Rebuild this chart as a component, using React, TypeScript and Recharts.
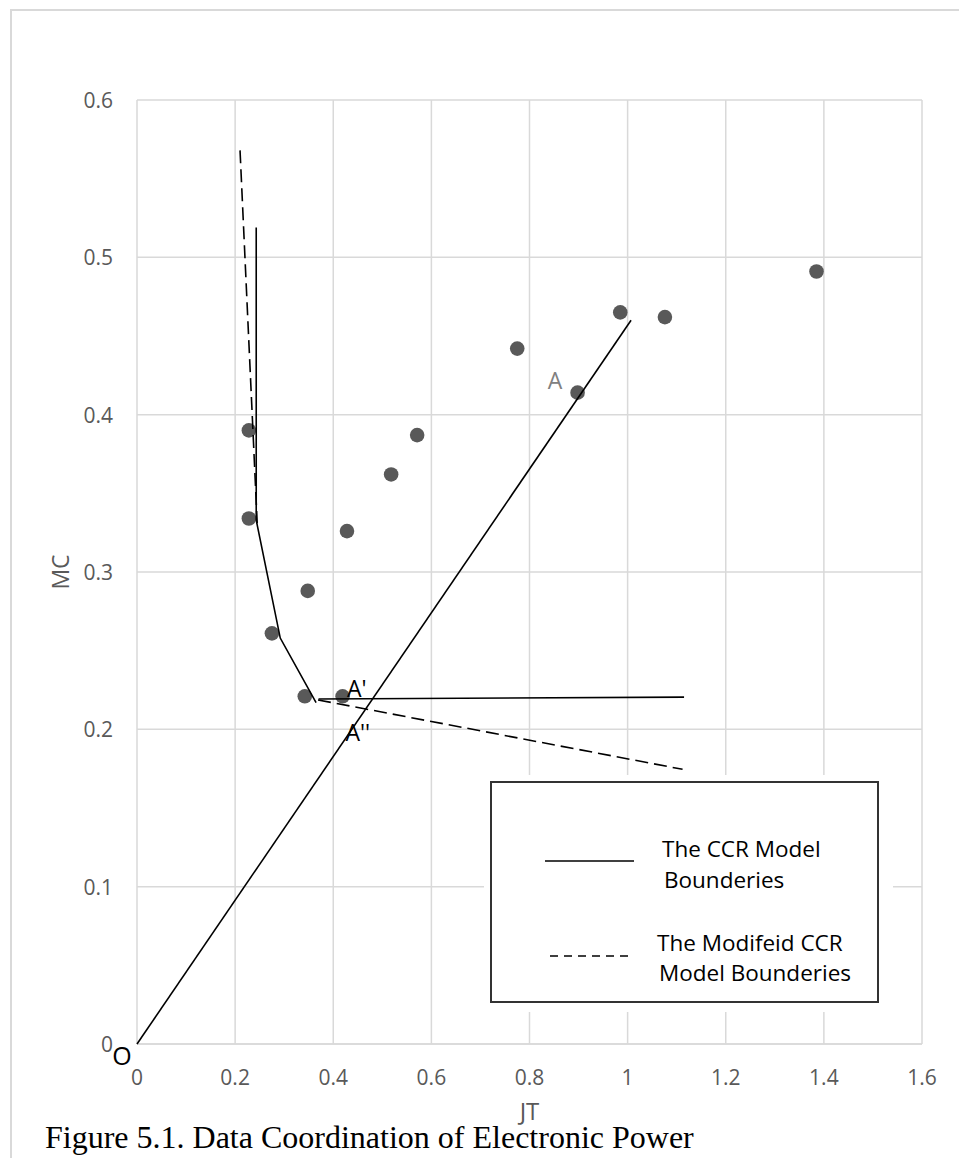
import { ScatterChart, Scatter, XAxis, YAxis, CartesianGrid, Label } from "recharts";

const FONT = "'Open Sans', 'Noto Sans', sans-serif";
const GRID = "#d9d9d9";
const TEXT = "#595959";

const xTicks = [0, 0.2, 0.4, 0.6, 0.8, 1, 1.2, 1.4, 1.6];
const yTicks = [0, 0.1, 0.2, 0.3, 0.4, 0.5, 0.6];

// observed units (JT, MC)
const units = [
  { x: 0.228, y: 0.39 },
  { x: 0.228, y: 0.334 },
  { x: 0.275, y: 0.261 },
  { x: 0.348, y: 0.288 },
  { x: 0.342, y: 0.221 },
  { x: 0.419, y: 0.221 },
  { x: 0.428, y: 0.326 },
  { x: 0.518, y: 0.362 },
  { x: 0.571, y: 0.387 },
  { x: 0.775, y: 0.442 },
  { x: 0.898, y: 0.414 },
  { x: 0.985, y: 0.465 },
  { x: 1.076, y: 0.462 },
  { x: 1.385, y: 0.491 },
];

// ray from the origin through A
const originRay = [
  { x: 0, y: 0 },
  { x: 1.007, y: 0.46 },
];

// CCR frontier (solid)
const ccrFrontier = [
  { x: 0.243, y: 0.519 },
  { x: 0.243, y: 0.333 },
  { x: 0.292, y: 0.258 },
  { x: 0.365, y: 0.217 },
];
const ccrFlat = [
  { x: 0.37, y: 0.2193 },
  { x: 1.115, y: 0.2205 },
];

// modified CCR frontier (dashed)
const modUpper = [
  { x: 0.21, y: 0.568 },
  { x: 0.245, y: 0.331 },
];
const modLower = [
  { x: 0.369, y: 0.2187 },
  { x: 1.112, y: 0.1746 },
];

const pointLabels = [
  { x: 0.852, y: 0.422, text: "A", color: "#808080" },
  { x: 0.448, y: 0.226, text: "A'", color: "#000" },
  { x: 0.45, y: 0.198, text: "A''", color: "#000" },
];

const Empty = () => <g />;

const Dot = (p: any) => <circle cx={p.cx} cy={p.cy} r={7.3} fill="#595959" />;

const PointLabel = (p: any) => (
  <text
    x={p.cx}
    y={p.cy}
    textAnchor="middle"
    dominantBaseline="central"
    fill={p.payload.color}
    fontSize={23}
    fontFamily={FONT}
  >
    {p.payload.text}
  </text>
);

function XTick({ x, y, payload }: any) {
  return (
    <text x={x} y={y} textAnchor="middle" dominantBaseline="central" fill={TEXT} fontSize={21} fontFamily={FONT}>
      {String(payload.value)}
    </text>
  );
}

function YTick({ x, y, payload }: any) {
  return (
    <g>
      <text x={x} y={y} textAnchor="end" dominantBaseline="central" fill={TEXT} fontSize={21} fontFamily={FONT}>
        {String(payload.value)}
      </text>
      {payload.value === 0 && (
        <text x={x + 9} y={y + 11} textAnchor="middle" dominantBaseline="central" fill="#000" fontSize={25} fontFamily={FONT}>
          O
        </text>
      )}
    </g>
  );
}

function LegendBox() {
  return (
    <svg width={409} height={237} style={{ position: "absolute", left: 484, top: 775 }}>
      <rect x={0} y={0} width={409} height={237} fill="#fff" />
      <rect x={7} y={7} width={387} height={220} fill="#fff" stroke="#333" strokeWidth={2} />
      <line x1={61} y1={86} x2={150} y2={86} stroke="#000" strokeWidth={1.6} />
      <line x1={66} y1={181} x2={148} y2={181} stroke="#000" strokeWidth={1.6} strokeDasharray="8 6" />
      <g fontFamily={FONT} fontSize={22.5} fill="#000">
        <text x={178} y={82}>The CCR Model</text>
        <text x={180} y={113}>Bounderies</text>
        <text x={173} y={176}>The Modifeid CCR</text>
        <text x={175} y={206}>Model Bounderies</text>
      </g>
    </svg>
  );
}

export default function App() {
  return (
    <div style={{ position: "absolute", left: 0, top: 0, width: 959, height: 1158, background: "#fff", overflow: "hidden" }}>
      <div
        style={{
          position: "absolute",
          left: 10,
          top: 9,
          right: -10,
          bottom: -10,
          borderLeft: `2px solid ${GRID}`,
          borderTop: `2px solid ${GRID}`,
        }}
      />
      <div style={{ position: "absolute", left: 0, top: 0 }}>
        <ScatterChart width={959} height={1158} margin={{ top: 100, right: 37, left: 77, bottom: 74 }}>
          <CartesianGrid stroke={GRID} strokeWidth={1.5} />
          <XAxis
            type="number"
            dataKey="x"
            domain={[0, 1.6]}
            ticks={xTicks}
            height={40}
            axisLine={{ stroke: GRID, strokeWidth: 1.5 }}
            tickLine={false}
            tickSize={0}
            tickMargin={33}
            tick={<XTick />}
          >
            <Label
              content={({ viewBox }: any) => (
                <text
                  x={viewBox.x + viewBox.width / 2}
                  y={viewBox.y + 66}
                  textAnchor="middle"
                  dominantBaseline="central"
                  fill={TEXT}
                  fontSize={24}
                  fontFamily={FONT}
                >
                  JT
                </text>
              )}
            />
          </XAxis>
          <YAxis
            type="number"
            dataKey="y"
            domain={[0, 0.6]}
            ticks={yTicks}
            width={60}
            axisLine={false}
            tickLine={false}
            tickSize={0}
            tickMargin={24}
            tick={<YTick />}
          >
            <Label
              content={({ viewBox }: any) => {
                const cx = viewBox.x - 17;
                const cy = viewBox.y + viewBox.height / 2;
                return (
                  <text
                    x={cx}
                    y={cy}
                    textAnchor="middle"
                    dominantBaseline="central"
                    transform={`rotate(-90, ${cx}, ${cy})`}
                    fill={TEXT}
                    fontSize={23}
                    fontFamily={FONT}
                  >
                    MC
                  </text>
                );
              }}
            />
          </YAxis>
          <Scatter data={units} shape={Dot} isAnimationActive={false} />
          <Scatter data={originRay} shape={Empty} line={{ stroke: "#000", strokeWidth: 1.6 }} isAnimationActive={false} />
          <Scatter data={ccrFrontier} shape={Empty} line={{ stroke: "#000", strokeWidth: 1.6 }} isAnimationActive={false} />
          <Scatter data={ccrFlat} shape={Empty} line={{ stroke: "#000", strokeWidth: 1.6 }} isAnimationActive={false} />
          <Scatter
            data={modUpper}
            shape={Empty}
            line={{ stroke: "#000", strokeWidth: 1.6, strokeDasharray: "13 6" }}
            isAnimationActive={false}
          />
          <Scatter
            data={modLower}
            shape={Empty}
            line={{ stroke: "#000", strokeWidth: 1.6, strokeDasharray: "13 6" }}
            isAnimationActive={false}
          />
          <Scatter data={pointLabels} shape={PointLabel} isAnimationActive={false} />
        </ScatterChart>
      </div>
      <LegendBox />
      <div
        style={{
          position: "absolute",
          left: 45,
          top: 1121,
          fontFamily: "'Liberation Serif', 'Times New Roman', serif",
          fontSize: 32,
          lineHeight: "32px",
          color: "#000",
          whiteSpace: "nowrap",
        }}
      >
        Figure 5.1. Data Coordination of Electronic Power
      </div>
    </div>
  );
}
